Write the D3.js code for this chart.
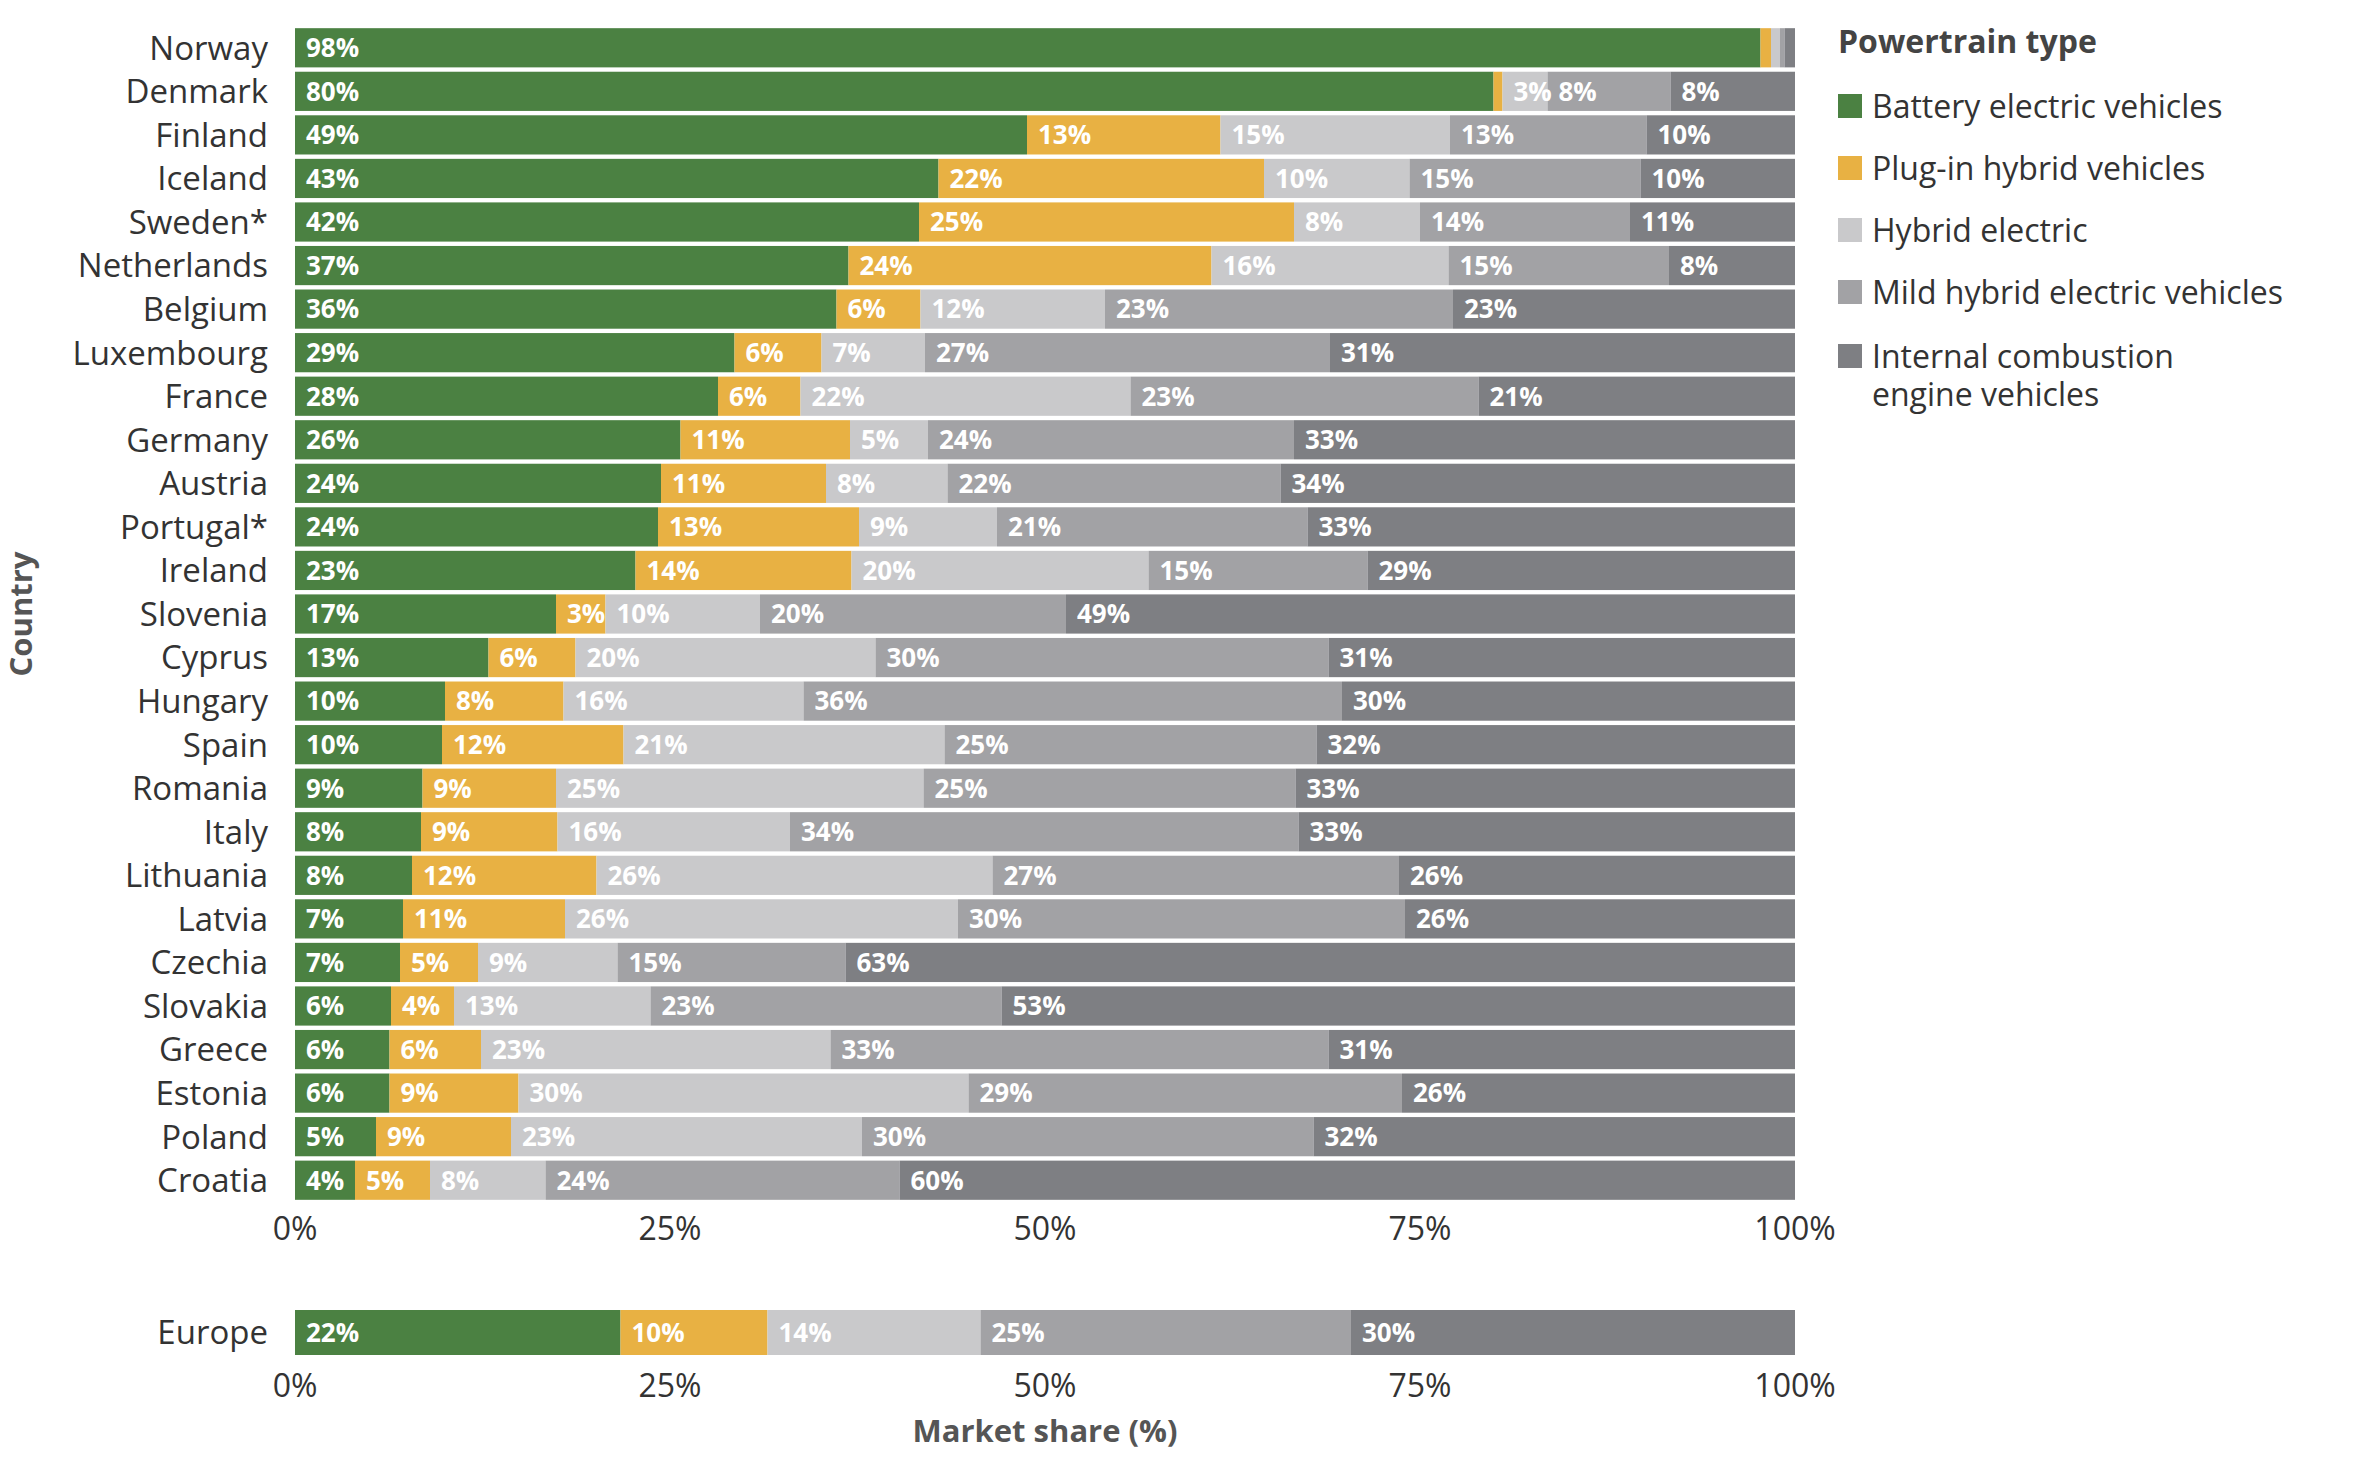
<!DOCTYPE html>
<html><head><meta charset="utf-8">
<script src="https://cdn.jsdelivr.net/npm/d3@7"></script>
<style>body{margin:0;background:#fff}text{font-family:"Open Sans",Lato,sans-serif}</style>
</head><body><svg id="chart" width="2376" height="1468"></svg>
<script>
countries=["Norway","Denmark","Finland","Iceland","Sweden*","Netherlands","Belgium","Luxembourg","France","Germany","Austria","Portugal*","Ireland","Slovenia","Cyprus","Hungary","Spain","Romania","Italy","Lithuania","Latvia","Czechia","Slovakia","Greece","Estonia","Poland","Croatia"]
bev=[97.7,79.9,48.8,42.9,41.6,36.9,36.1,29.3,28.2,25.7,24.4,24.2,22.7,17.4,12.9,10,9.8,8.5,8.4,7.8,7.2,7.0,6.4,6.3,6.3,5.4,4]
phev=[0.7,0.6,12.9,21.7,25,24.2,5.6,5.8,5.5,11.3,11,13.4,14.4,3.3,5.8,7.9,12.1,8.9,9.1,12.3,10.8,5.2,4.2,6.1,8.6,9.0,5]
hev=[0.6,3,15.3,9.7,8.4,15.8,12.3,6.9,22,5.2,8.1,9.2,19.8,10.3,20,16,21.4,24.5,15.5,26.4,26.2,9.3,13.1,23.3,30,23.4,7.7]
mhev=[0.3,8.2,13.1,15.4,14,14.7,23.2,27,23.2,24.4,22.2,20.7,14.6,20.4,30.2,35.9,24.8,24.8,33.9,27.1,29.8,15.2,23.4,33.2,28.9,30.1,23.6]
ice=[0.7,8.3,9.9,10.3,11,8.4,22.8,31,21.1,33.4,34.3,32.5,28.5,48.6,31.1,30.2,31.9,33.3,33.1,26.4,26,63.3,52.9,31.1,26.2,32.1,59.7]
europe=[21.7,9.8,14.2,24.7,29.6]
seriesNames=["Battery electric vehicles","Plug-in hybrid vehicles","Hybrid electric","Mild hybrid electric  vehicles","Internal combustion engine vehicles"]
colors=["#4b8142","#e8b143","#c9c9cb","#a2a2a5","#7e7f83"]
ticks=[0,25,50,75,100]

var svg=d3.select("#chart")
var x=d3.scaleLinear().domain([0,100]).range([295,1795])
var y=d3.scaleBand().domain(countries).range([26,1202]).paddingInner(0.1).paddingOuter(0.05)
var yE=d3.scaleBand().domain(["Europe"]).range([1310,1355])

var rows=countries.map(function(c,i){return {name:c,vals:[bev[i],phev[i],hev[i],mhev[i],ice[i]]}})
rows.push({name:"Europe",vals:europe,europe:true})

function yy(r){return r.europe?yE("Europe"):y(r.name)}
function bh(r){return r.europe?yE.bandwidth():y.bandwidth()}

var g=svg.selectAll(".row").data(rows).enter().append("g")
g.each(function(r){
  var acc=0, segs=r.vals.map(function(v,k){var s={x0:acc,v:v,k:k};acc+=v;return s})
  var sel=d3.select(this)
  sel.selectAll("rect").data(segs).enter().append("rect")
    .attr("x",function(d){return x(d.x0)}).attr("width",function(d){return x(d.x0+d.v)-x(d.x0)})
    .attr("y",yy(r)).attr("height",bh(r)).attr("fill",function(d){return colors[d.k]})
  sel.selectAll("text.v").data(segs.filter(function(d){return d.v>=2.5})).enter().append("text")
    .attr("x",function(d){return x(d.x0)+11}).attr("y",yy(r)+bh(r)/2).attr("dy","0.36em")
    .attr("fill","#fff").attr("font-weight",700).attr("font-size",26)
    .text(function(d){return Math.round(d.v)+"%"})
  sel.append("text").attr("x",268).attr("y",yy(r)+bh(r)/2).attr("dy","0.36em")
    .attr("text-anchor","end").attr("font-size",33).attr("fill","#333").text(r.name)
})

function axis(yPos){
  svg.append("g").selectAll("text").data(ticks).enter().append("text")
    .attr("x",function(d){return x(d)}).attr("y",yPos).attr("text-anchor","middle")
    .attr("font-size",32).attr("fill","#333").text(function(d){return d+"%"})
}
axis(1240)
axis(1397)
svg.append("text").attr("x",x(50)).attr("y",1442).attr("text-anchor","middle")
  .attr("font-size",31).attr("font-weight",700).attr("fill","#555").text("Market share (%)")
svg.append("text").attr("transform","translate(32,614) rotate(-90)").attr("text-anchor","middle")
  .attr("font-size",31).attr("font-weight",700).attr("fill","#555").text("Country")

var lg=svg.append("g")
lg.append("text").attr("x",1838).attr("y",53).attr("font-size",32).attr("font-weight",700).attr("fill","#444").text("Powertrain type")
var ly=[106,168,230,292,356]
seriesNames.forEach(function(n,i){
  lg.append("rect").attr("x",1838).attr("y",ly[i]-12).attr("width",24).attr("height",24).attr("fill",colors[i])
  var t=lg.append("text").attr("x",1872).attr("y",ly[i]).attr("dy","0.36em").attr("font-size",32).attr("fill","#333")
  if(i==4){t.append("tspan").text("Internal combustion");t.append("tspan").attr("x",1872).attr("dy","1.2em").text("engine vehicles")}
  else t.text(n)
})
</script></body></html>
